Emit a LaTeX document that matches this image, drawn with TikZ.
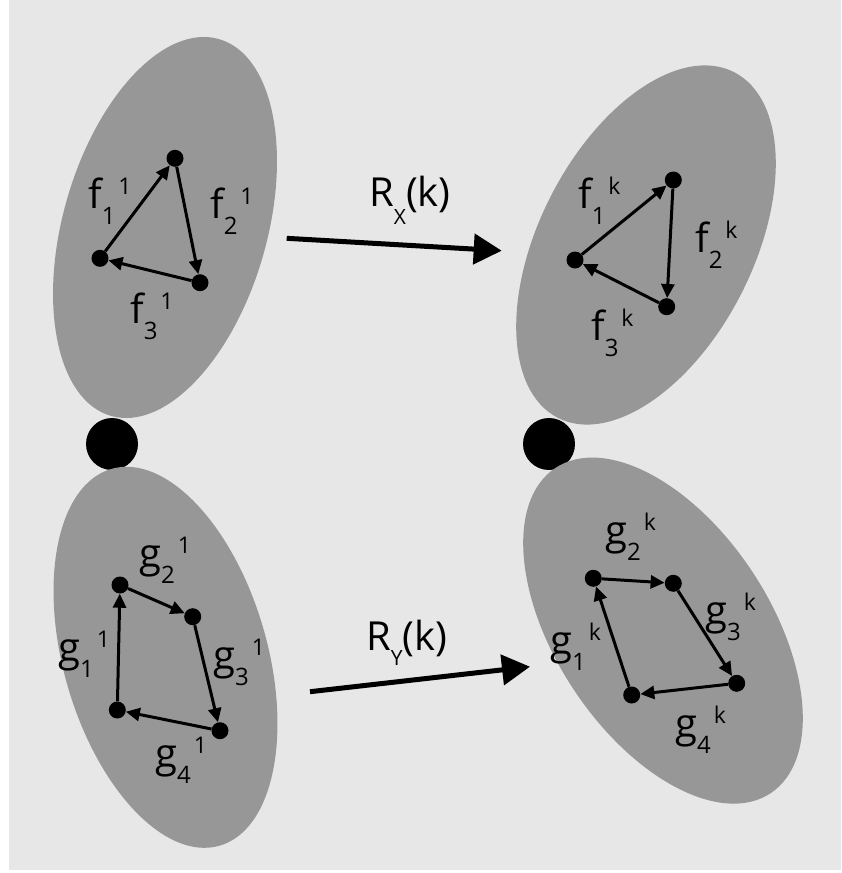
\documentclass[tikz,border=0pt]{standalone}
\usepackage{fontspec}
\setmainfont{Open Sans}
\usetikzlibrary{arrows.meta}
\definecolor{bggray}{HTML}{E7E7E7}
\definecolor{ellgray}{HTML}{979797}
\newcommand\lbl[3]{#1\raisebox{-16pt}{\fontsize{24}{24}\selectfont #2}\hspace{3pt}\raisebox{14pt}{\fontsize{23}{23}\selectfont #3}}
\newcommand\rlbl[2]{R\raisebox{#2}{\fontsize{21}{21}\selectfont #1}(k)}
\begin{document}
\begin{tikzpicture}[x=1pt,y=-1pt,
  dot/.style={circle,fill=black,inner sep=0pt,minimum size=17pt},
  bigdot/.style={circle,fill=black,inner sep=0pt,minimum size=52pt},
  edgearrow/.style={line width=3pt,-{Triangle[length=14pt,width=13pt]}},
  bigarrow/.style={line width=5pt,-{Triangle[length=28pt,width=30pt]}},
  lab/.style={anchor=base west,inner sep=0pt,font=\fontsize{40}{40}\selectfont},
  blob/.style={fill=ellgray}]
\useasboundingbox (0,0) rectangle (841,873);
\fill[white] (0,0) rectangle (841,873);
\fill[bggray] (9,0) rectangle (841,870);
% junction dots
\node[bigdot] (c1) at (112,444) {};
\node[bigdot] (c2) at (549,444) {};
% ellipses
\fill[blob,rotate around={-16:(165,227.5)}] (165,227.5) ellipse [x radius=102, y radius=196];
\fill[blob,rotate around={-27:(646,245)}] (646,245) ellipse [x radius=107, y radius=194];
\fill[blob,rotate around={16:(165.5,657.3)}] (165.5,657.3) ellipse [x radius=102, y radius=196];
\fill[blob,rotate around={33.5:(663,630.6)}] (663,630.6) ellipse [x radius=107, y radius=195];
% top-left triangle
\node[dot] (a1) at (175,158.3) {};
\node[dot] (a2) at (100,258.3) {};
\node[dot] (a3) at (200,282.7) {};
\draw[edgearrow] (a2) -- (a1);
\draw[edgearrow] (a1) -- (a3);
\draw[edgearrow] (a3) -- (a2);
\node[lab] (la1) at (88,208) {\lbl{f}{1}{1}};
\node[lab] (la2) at (210,218) {\lbl{f}{2}{1}};
\node[lab] (la3) at (130,323) {\lbl{f}{3}{1}};
% top-right triangle
\node[dot] (b1) at (673.3,180) {};
\node[dot] (b2) at (575,260) {};
\node[dot] (b3) at (666.7,306.7) {};
\draw[edgearrow] (b2) -- (b1);
\draw[edgearrow] (b1) -- (b3);
\draw[edgearrow] (b3) -- (b2);
\node[lab] (lb1) at (578,208) {\lbl{f}{1}{k}};
\node[lab] (lb2) at (695,252) {\lbl{f}{2}{k}};
\node[lab] (lb3) at (591,340) {\lbl{f}{3}{k}};
% bottom-left quad
\node[dot] (p1) at (120,585) {};
\node[dot] (p2) at (192.7,616.7) {};
\node[dot] (p3) at (220,730.7) {};
\node[dot] (p4) at (117.3,710) {};
\draw[edgearrow] (p1) -- (p2);
\draw[edgearrow] (p2) -- (p3);
\draw[edgearrow] (p3) -- (p4);
\draw[edgearrow] (p4) -- (p1);
\node[lab] (lp2) at (139,567) {\lbl{g}{2}{1}};
\node[lab] (lp1) at (58,661) {\lbl{g}{1}{1}};
\node[lab] (lp3) at (213,669) {\lbl{g}{3}{1}};
\node[lab] (lp4) at (155,767) {\lbl{g}{4}{1}};
% bottom-right quad
\node[dot] (q1) at (593.3,578.3) {};
\node[dot] (q2) at (673.3,583.3) {};
\node[dot] (q3) at (736.7,683.3) {};
\node[dot] (q4) at (631.7,695) {};
\draw[edgearrow] (q1) -- (q2);
\draw[edgearrow] (q2) -- (q3);
\draw[edgearrow] (q3) -- (q4);
\draw[edgearrow] (q4) -- (q1);
\node[lab] (lq1) at (550,654) {\lbl{g}{1}{k}};
\node[lab] (lq2) at (605,544) {\lbl{g}{2}{k}};
\node[lab] (lq3) at (705,624) {\lbl{g}{3}{k}};
\node[lab] (lq4) at (675,737) {\lbl{g}{4}{k}};
% maps
\coordinate (rx1) at (286.7,238.3);
\coordinate (rx2) at (501.7,250.7);
\draw[bigarrow] (rx1) -- (rx2);
\node[lab] (lrx) at (369,206.7) {\rlbl{X}{-18pt}};
\coordinate (ry1) at (310,691.7);
\coordinate (ry2) at (530,666.7);
\draw[bigarrow] (ry1) -- (ry2);
\node[lab] (lry) at (366,650) {\rlbl{Y}{-15pt}};
\end{tikzpicture}
\end{document}
